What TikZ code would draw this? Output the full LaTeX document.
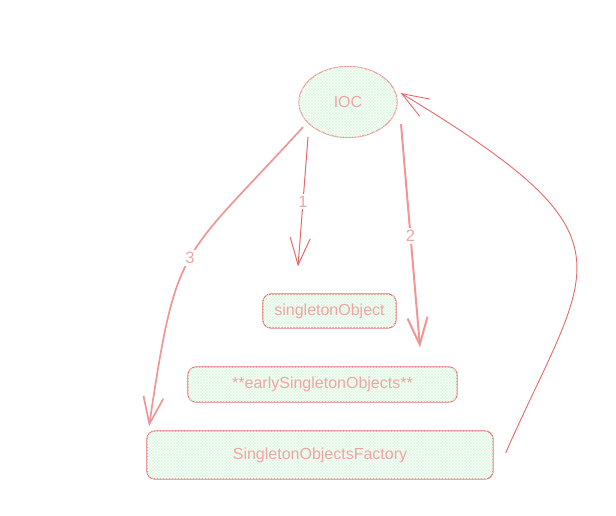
\documentclass[tikz,border=0pt]{standalone}
\usepackage{fontspec}
\setmainfont{Liberation Sans}
\usetikzlibrary{shapes.geometric, arrows.meta, patterns, calc}

\definecolor{strokered}{RGB}{230,105,105}
\definecolor{lightred}{RGB}{240,150,150}
\definecolor{textpink}{RGB}{240,165,165}
\definecolor{mintbg}{RGB}{248,254,249}
\definecolor{minthatch}{RGB}{224,249,228}

\begin{document}
\begin{tikzpicture}[x=1pt, y=-1pt, >={Straight Barb[length=27pt,width=20pt]},
                box/.style={draw=strokered, line width=1.2pt, rounded corners=8pt, fill=mintbg,
                        postaction={pattern=north east lines, pattern color=minthatch},
                        postaction={pattern=north west lines, pattern color=minthatch},
                        text=textpink, font=\fontsize{16}{19}\selectfont, inner sep=0pt},
                numlabel/.style={fill=white, text=textpink, font=\fontsize{16.5}{19}\selectfont, inner sep=2pt}]
                \useasboundingbox (0,0) rectangle (616,515);

                % Nodes
                \node[box, ellipse, draw=lightred, minimum width=98pt, minimum height=71pt] (ioc) at (348,102) {IOC};
                \node[box, minimum width=133pt, minimum height=34pt] (single) at (329.5,311) {singletonObject};
                \node[box, minimum width=269pt, minimum height=35pt] (early) at (322.5,384.5) {**earlySingletonObjects**};
                \node[box, minimum width=346pt, minimum height=48pt] (factory) at (320,455) {SingletonObjectsFactory};

                % Arrows
                \draw[->, strokered, line width=1pt] ($(ioc.south)+(-40,-1)$) -- ($(single.north)+(-31.5,-27)$)
                        node[numlabel, pos=0.5] {1};
                \draw[->, lightred, line width=2pt] ($(ioc.south)+(53,-14)$) -- ($(early.north)+(97.5,-19)$)
                        node[numlabel, pos=0.5] {2};
                \draw[->, lightred, line width=1.7pt] ($(ioc.south)+(-45,-11)$) .. controls (179,263) and (177,240) .. ($(factory.north)+(-171,-4)$)
                        node[numlabel, pos=0.5] {3};
                \draw[->, strokered, line width=0.9pt] ($(factory.east)+(12,-2)$) .. controls (590,262) and (644,240) .. ($(ioc.east)+(3,-9)$);
            \end{tikzpicture}
\end{document}
